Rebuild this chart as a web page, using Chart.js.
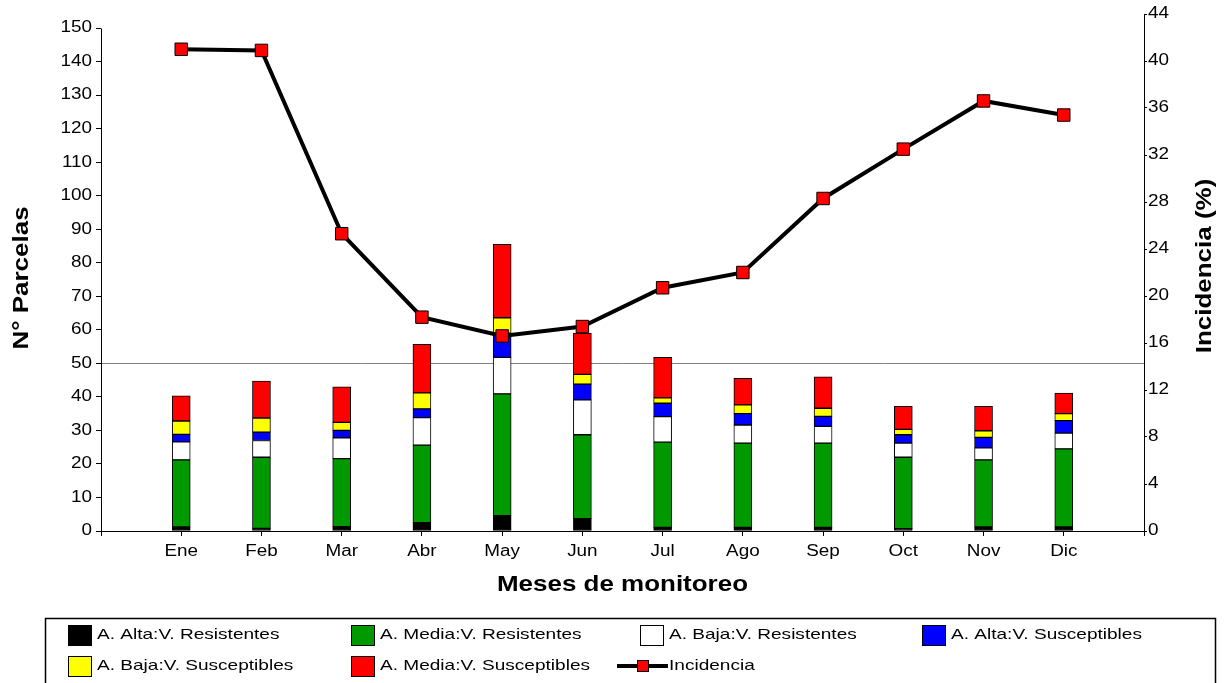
<!DOCTYPE html>
<html><head><meta charset="utf-8">
<script src="https://cdn.jsdelivr.net/npm/chart.js@4.4.1/dist/chart.umd.min.js"></script>
<style>html,body{margin:0;padding:0;background:#fff}#wrap{position:relative;width:1224px;height:683px}</style>
</head><body><div id="wrap"><canvas id="c"></canvas></div>
<script>
// ---------- data ----------
const months = ['Ene','Feb','Mar','Abr','May','Jun','Jul','Ago','Sep','Oct','Nov','Dic'];
const altaResistentes   = [1.2, 0.8, 1.3, 2.5, 4.6, 3.7, 1.1, 1.1, 1.1, 0.7, 1.2, 1.2];
const mediaResistentes  = [20.0, 21.2, 20.3, 23.1, 36.3, 25.0, 25.4, 25.1, 25.1, 21.3, 20.0, 23.3];
const bajaResistentes   = [5.4, 5.0, 6.2, 8.2, 10.9, 10.4, 7.6, 5.4, 5.0, 4.2, 3.6, 4.7];
const altaSusceptibles  = [2.2, 2.5, 2.2, 2.6, 7.2, 4.7, 4.0, 3.4, 3.0, 2.5, 3.1, 3.7];
const bajaSusceptibles  = [4.0, 4.2, 2.4, 4.8, 4.6, 2.9, 1.6, 2.6, 2.4, 1.6, 2.0, 2.1];
const mediaSusceptibles = [7.5, 11.0, 10.6, 14.5, 21.9, 12.3, 12.1, 7.9, 9.4, 6.9, 7.3, 6.1];
const incidencia        = [41.0, 40.9, 25.3, 18.2, 16.6, 17.4, 20.7, 22.0, 28.3, 32.5, 36.6, 35.4];
const seriesNames = ['A. Alta:V. Resistentes','A. Media:V. Resistentes','A. Baja:V. Resistentes',
                     'A. Alta:V. Susceptibles','A. Baja:V. Susceptibles','A. Media:V. Susceptibles','Incidencia'];
const xTitle = 'Meses de monitoreo';
const yLeftTitle = 'N° Parcelas';
const yRightTitle = 'Incidencia (%)';
const leftTickMax = 150, leftTickStep = 10;
const rightTickMax = 44, rightTickStep = 4;

// ---------- style / layout ----------
const FONT = "'Liberation Sans', Arial, Helvetica, sans-serif";
const seriesColors = ['#000000','#009900','#ffffff','#0000ff','#ffff00','#ff0000'];
const PLOT_TOP = 14, PLOT_BOTTOM = 531, LEFT150_PX = 28;
const LEFT_MAX = leftTickMax * (PLOT_BOTTOM - PLOT_TOP) / (PLOT_BOTTOM - LEFT150_PX);

const pad = a => [null, ...a, null];
const xLabels = ['', ...months, ''];
const barSeries = [altaResistentes, mediaResistentes, bajaResistentes, altaSusceptibles, bajaSusceptibles, mediaSusceptibles];

// wide (horizontally stretched) text rendering, like the reference
const canvas = document.getElementById('c');
const c2d = canvas.getContext('2d');
const origFill = c2d.fillText.bind(c2d);
const origMeasure = c2d.measureText.bind(c2d);
let textStretch = 1.18;
c2d.fillText = function (t, x, y, mw) {
  this.save(); this.translate(x, y); this.scale(textStretch, 1);
  if (mw === undefined || mw === null || !isFinite(mw)) origFill(t, 0, 0);
  else origFill(t, 0, 0, mw / textStretch);
  this.restore();
};
c2d.measureText = function (t) {
  const m = origMeasure(t);
  return { width: m.width * textStretch,
           actualBoundingBoxAscent: m.actualBoundingBoxAscent,
           actualBoundingBoxDescent: m.actualBoundingBoxDescent,
           actualBoundingBoxLeft: m.actualBoundingBoxLeft * textStretch,
           actualBoundingBoxRight: m.actualBoundingBoxRight * textStretch };
};

const datasets = barSeries.map((arr, i) => ({
  type: 'bar', label: seriesNames[i], data: pad(arr),
  backgroundColor: seriesColors[i], borderColor: '#000', borderWidth: 1,
  borderSkipped: false, barThickness: 18, yAxisID: 'y', order: 1
}));
datasets.push({
  type: 'line', label: seriesNames[6], data: pad(incidencia), yAxisID: 'y2',
  borderColor: '#000', borderWidth: 4, tension: 0, fill: false,
  pointStyle: 'rect', pointRadius: 8.8, pointBackgroundColor: '#ff0000',
  pointBorderColor: '#000', pointBorderWidth: 1, order: 0
});

const custom = {
  id: 'custom',
  afterDraw(chart) {
    const ctx = chart.ctx, y = chart.scales.y;
    ctx.save();
    // left axis line (0..150)
    const xl = Math.round(chart.chartArea.left) + 0.5;
    ctx.strokeStyle = '#000'; ctx.lineWidth = 1;
    ctx.beginPath(); ctx.moveTo(xl, Math.round(y.getPixelForValue(leftTickMax)) + 0.5);
    ctx.lineTo(xl, Math.round(y.getPixelForValue(0)) + 0.5); ctx.stroke();
    // y titles
    ctx.fillStyle = '#000';
    ctx.font = 'bold 22px ' + FONT;
    ctx.textAlign = 'center'; ctx.textBaseline = 'middle';
    ctx.save(); ctx.translate(22, 278); ctx.rotate(-Math.PI/2); ctx.fillText(yLeftTitle, 0, 0); ctx.restore();
    ctx.save(); ctx.translate(1205, 266); ctx.rotate(-Math.PI/2); ctx.fillText(yRightTitle, 0, 0); ctx.restore();
    // legend
    ctx.lineWidth = 1.5; ctx.strokeStyle = '#000';
    ctx.strokeRect(45.5, 618.5, 1170, 80);
    ctx.font = '15px ' + FONT;
    const saved = textStretch; textStretch = 1.27;
    ctx.textAlign = 'left';
    const textX = [97, 380, 669, 951];
    const rowY = [635, 666];
    chart.data.datasets.forEach((ds, i) => {
      const col = i % 4, row = Math.floor(i / 4);
      const tx = textX[col], cy = rowY[row];
      ctx.lineWidth = 1; ctx.strokeStyle = '#000';
      if (ds.type === 'line') {
        ctx.lineWidth = 4;
        ctx.beginPath(); ctx.moveTo(tx - 52, cy); ctx.lineTo(tx - 1, cy); ctx.stroke();
        ctx.fillStyle = ds.pointBackgroundColor; ctx.lineWidth = 1;
        ctx.fillRect(tx - 32, cy - 6, 12, 12); ctx.strokeRect(tx - 32 + 0.5, cy - 6 + 0.5, 11, 11);
        ctx.fillStyle = '#000'; ctx.fillText(ds.label, tx, cy);
      } else {
        ctx.fillStyle = ds.backgroundColor;
        ctx.fillRect(tx - 29, cy - 10, 24, 21);
        ctx.strokeRect(tx - 29 + 0.5, cy - 10 + 0.5, 23, 20);
        ctx.fillStyle = '#000'; ctx.fillText(ds.label, tx, cy);
      }
    });
    textStretch = saved;
    ctx.restore();
  }
};

Chart.defaults.font.family = FONT;
Chart.defaults.color = '#000';

new Chart(c2d, {
  data: { labels: xLabels, datasets },
  options: {
    responsive: true, maintainAspectRatio: false, animation: false,
    layout: { padding: { top: PLOT_TOP, bottom: 65, left: 0, right: 0 } },
    plugins: { legend: { display: false }, tooltip: { enabled: false } },
    scales: {
      x: {
        type: 'category', offset: false, stacked: true,
        grid: { offset: false, drawOnChartArea: false, drawTicks: true, tickLength: 5, tickColor: '#000', tickWidth: 1 },
        border: { display: true, color: '#000', width: 1 },
        ticks: { autoSkip: false, maxRotation: 0, font: { size: 16 }, color: '#000', padding: 6 },
        title: { display: true, text: xTitle, font: { size: 22, weight: 'bold' }, color: '#000', padding: { top: 0, bottom: 20 } },
        afterFit(s) { s.height = 87; }
      },
      y: {
        position: 'left', stacked: true, min: 0, max: LEFT_MAX, bounds: 'data',
        ticks: { stepSize: leftTickStep, includeBounds: false, font: { size: 16 }, color: '#000', padding: 4 },
        grid: {
          drawOnChartArea: true, drawTicks: true, tickLength: 5, tickColor: '#000', lineWidth: 1,
          color: c => (c.tick && c.tick.value === 50) ? '#808080' : 'rgba(0,0,0,0)'
        },
        border: { display: false },
        afterFit(s) { s.width = 101; }
      },
      y2: {
        position: 'right', min: 0, max: rightTickMax,
        ticks: { stepSize: rightTickStep, font: { size: 16 }, color: '#000', padding: 1 },
        grid: { drawOnChartArea: false, drawTicks: true, tickLength: 3, tickColor: '#000' },
        border: { display: true, color: '#000', width: 1 },
        afterFit(s) { s.width = 80; }
      }
    }
  },
  plugins: [custom]
});
</script></body></html>
